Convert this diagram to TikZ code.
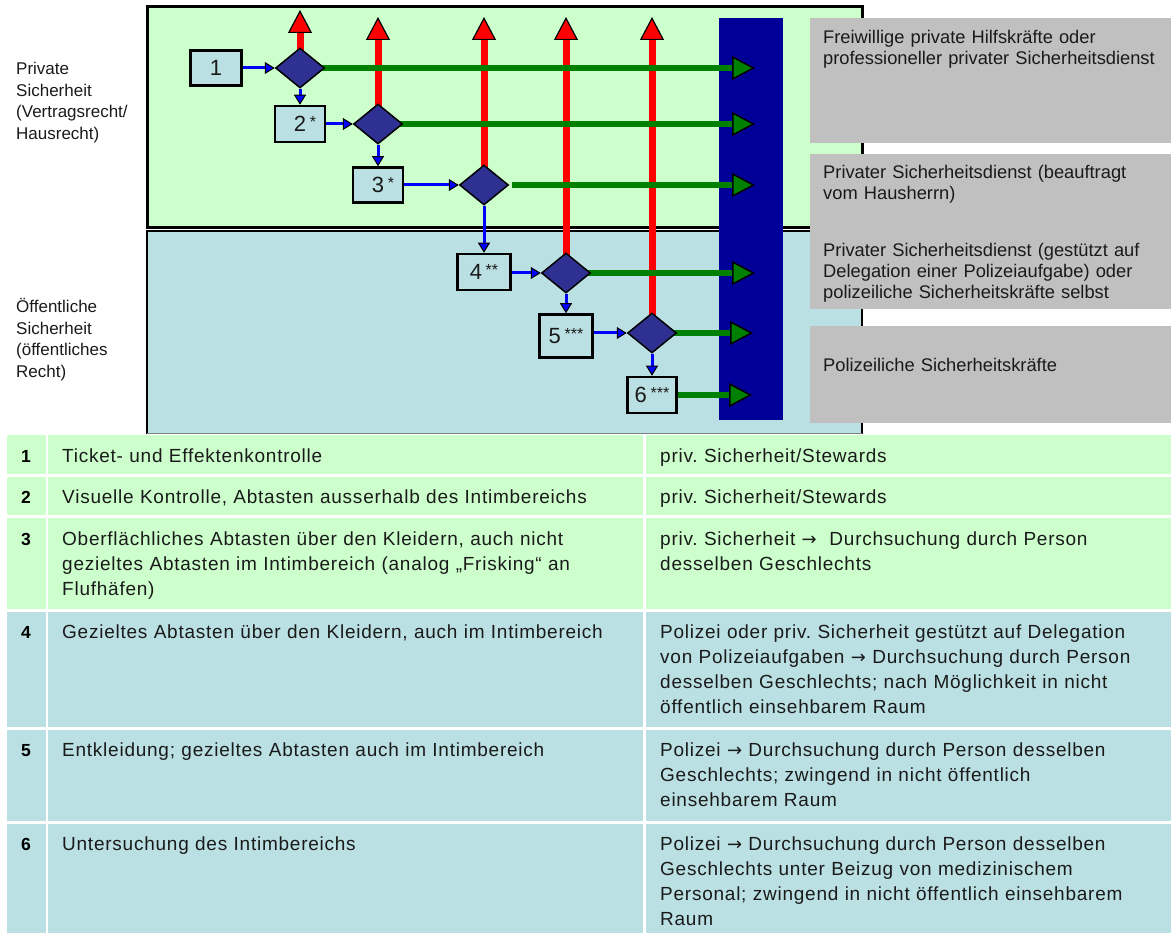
\documentclass[tikz,border=0pt]{standalone}
\usepackage{fontspec}
\setmainfont{Liberation Sans}
\newfontfamily\tabfont[LetterSpace=4]{Liberation Sans}
\newfontfamily\arrowfont{DejaVu Sans}
\frenchspacing
\usetikzlibrary{shapes.geometric,arrows.meta}
\definecolor{regiongreen}{HTML}{CCFFCC}
\definecolor{regionblue}{HTML}{BBE0E3}
\definecolor{barnavy}{HTML}{000099}
\definecolor{diamondnavy}{RGB}{46,49,146}
\definecolor{boxgray}{HTML}{C0C0C0}
\definecolor{flowgreen}{HTML}{008000}
\definecolor{flowblue}{HTML}{0000FF}
\definecolor{textdark}{HTML}{1A1A1A}
\pgfdeclarelayer{bg}
\pgfdeclarelayer{lines}
\pgfsetlayers{bg,lines,main}
\newcommand\boxstars[1]{\raisebox{4pt}{\fontsize{16}{16}\selectfont #1}}
\newcommand\toarr{{\arrowfont\fontsize{18}{18}\selectfont →}}
\tikzset{
  stepbox/.style={draw=black, line width=2.5pt, fill=regionblue, inner sep=0pt,
    font=\fontsize{22}{22}\selectfont, text=textdark},
  decision/.style={diamond, draw=black, line width=1.5pt, fill=diamondnavy,
    minimum width=49pt, minimum height=40pt, inner sep=0pt},
  uparrow/.style={draw=red, line width=7pt,
    -{Triangle[length=23pt,width=24pt,fill=red,color=black,line width=1.2pt]}},
  outarrow/.style={draw=flowgreen, line width=6pt,
    -{Triangle[length=23pt,width=24pt,fill=flowgreen,color=black,line width=1.5pt]}},
  steparrow/.style={draw=flowblue, line width=3pt,
    -{Triangle[length=10pt,width=12pt,fill=flowblue,color=black,line width=1pt]}},
  sidelabel/.style={anchor=base west, inner sep=0pt, align=left, text width=130pt,
    font=\fontsize{17}{21.5}\selectfont, text=textdark},
  graytext/.style={anchor=base west, inner sep=0pt, align=left, text width=345pt,
    font=\fontsize{18.3}{21}\selectfont, text=textdark},
  numcell/.style={anchor=base, inner sep=0pt, font=\bfseries\fontsize{17.5}{17.5}\selectfont, text=black},
  celltext/.style={anchor=base west, inner sep=0pt, align=left, text width=570pt,
    font=\tabfont\fontsize{19}{25.3}\selectfont, text=textdark},
}
\begin{document}
\begin{tikzpicture}[x=1pt,y=-1pt]
\useasboundingbox (0,0) rectangle (1171,933);

\begin{pgfonlayer}{bg}
  % regions
  \fill[regiongreen] (147,7) rectangle (862,228);
  \draw[black, line width=3pt] (147,7) rectangle (862,228);
  \fill[regionblue] (147,231) rectangle (862,434);
  \draw[black, line width=2.5pt] (147,434) -- (147,231) -- (862,231) -- (862,434);
  \draw[gray, line width=1pt] (147,434) -- (862,434);
  % navy bar
  \fill[barnavy] (719,18) rectangle (783,420);
  % gray boxes
  \fill[boxgray] (810,18) rectangle (1171,143);
  \fill[boxgray] (810,154) rectangle (1171,309);
  \fill[boxgray] (810,326) rectangle (1171,423);
  % table cells
  \foreach \t/\b/\c in {435/474/regiongreen, 477/515/regiongreen, 518/609/regiongreen,
                        612/727/regionblue, 730/821/regionblue, 824/933/regionblue} {
    \fill[\c] (7,\t) rectangle (46,\b);
    \fill[\c] (48,\t) rectangle (643,\b);
    \fill[\c] (646,\t) rectangle (1171,\b);
  }
\end{pgfonlayer}

% side labels
\node[sidelabel] (lprivate) at (16,75) {Private\\Sicherheit\\(Vertragsrecht/\\Hausrecht)};
\node[sidelabel] (lpublic) at (16,313) {Öffentliche\\Sicherheit\\(öffentliches\\Recht)};

% gray box texts
\node[graytext] (g1text) at (823,44) {Freiwillige private Hilfskräfte oder\\professioneller privater Sicherheitsdienst};
\node[graytext] (g2text) at (823,179) {Privater Sicherheitsdienst (beauftragt\\vom Hausherrn)};
\node[graytext] (g3text) at (823,257) {Privater Sicherheitsdienst (gestützt auf\\Delegation einer Polizeiaufgabe) oder\\polizeiliche Sicherheitskräfte selbst};
\node[graytext] (g4text) at (823,372) {Polizeiliche Sicherheitskräfte};

% step boxes
\node[stepbox, minimum width=51pt, minimum height=35pt] (b1) at (216,68) {1};
\node[stepbox, minimum width=50pt, minimum height=36pt] (b2) at (300,124) {2\rlap{\,\boxstars{*}}};
\node[stepbox, minimum width=50pt, minimum height=35pt] (b3) at (378,185) {3\rlap{\,\boxstars{*}}};
\node[stepbox, minimum width=53pt, minimum height=36pt] (b4) at (484,272) {4\,\boxstars{**}};
\node[stepbox, minimum width=53pt, minimum height=43pt] (b5) at (566,336) {5\,\boxstars{***}};
\node[stepbox, minimum width=49pt, minimum height=36pt] (b6) at (652,395) {6\,\boxstars{***}};

% decisions
\node[decision] (d1) at (300,68) {};
\node[decision] (d2) at (378,124) {};
\node[decision] (d3) at (484,185) {};
\node[decision] (d4) at (566,273) {};
\node[decision] (d5) at (652,333) {};

% arrow end points
\coordinate (r1) at (300,10);
\coordinate (r2) at (378,17);
\coordinate (r3) at (484,17);
\coordinate (r4) at (566,17);
\coordinate (r5) at (652,17);
\coordinate (g1) at (755,68);
\coordinate (g2) at (755,124);
\coordinate (g3) at (755,185);
\coordinate (g4) at (755,273);
\coordinate (g5) at (753,333);
\coordinate (g6) at (752,395);

\begin{pgfonlayer}{lines}
  \draw[uparrow] (d1.center) -- (r1);
  \draw[uparrow] (d2.center) -- (r2);
  \draw[uparrow] (d3.center) -- (r3);
  \draw[uparrow] (d4.center) -- (r4);
  \draw[uparrow] (d5.center) -- (r5);
  \draw[outarrow] (d1.center) -- (g1);
  \draw[outarrow] (d2.center) -- (g2);
  \draw[outarrow] (d3.east) ++(3,0) -- (g3);
  \draw[outarrow] (d4.center) -- (g4);
  \draw[outarrow] (d5.center) -- (g5);
  \draw[outarrow] (b6.center) -- (g6);
\end{pgfonlayer}
\draw[steparrow] (b1.east |- d1.west) -- (d1.west);
\draw[steparrow] (d1.south) -- (b2.north);
\draw[steparrow] (b2.east |- d2.west) -- (d2.west);
\draw[steparrow] (d2.south) -- (b3.north);
\draw[steparrow] (b3.east |- d3.west) -- (d3.west);
\draw[steparrow] (d3.south) -- (b4.north);
\draw[steparrow] (b4.east |- d4.west) -- (d4.west);
\draw[steparrow] (d4.south) -- (b5.north);
\draw[steparrow] (b5.east |- d5.west) -- (d5.west);
\draw[steparrow] (d5.south) -- (b6.north);

% table
\node[numcell] (n1) at (26,462) {1};
\node[numcell] (n2) at (26,503) {2};
\node[numcell] (n3) at (26,545) {3};
\node[numcell] (n4) at (26,638) {4};
\node[numcell] (n5) at (26,756) {5};
\node[numcell] (n6) at (26,850) {6};

\node[celltext] (m1) at (62,462) {Ticket- und Effektenkontrolle};
\node[celltext] (m2) at (62,503) {Visuelle Kontrolle, Abtasten ausserhalb des Intimbereichs};
\node[celltext] (m3) at (62,545) {Oberflächliches Abtasten über den Kleidern, auch nicht\\gezieltes Abtasten im Intimbereich (analog „Frisking“ an\\Flufhäfen)};
\node[celltext] (m4) at (62,638) {Gezieltes Abtasten über den Kleidern, auch im Intimbereich};
\node[celltext] (m5) at (62,756) {Entkleidung; gezieltes Abtasten auch im Intimbereich};
\node[celltext] (m6) at (62,850) {Untersuchung des Intimbereichs};

\node[celltext] (w1) at (660,462) {priv. Sicherheit/Stewards};
\node[celltext] (w2) at (660,503) {priv. Sicherheit/Stewards};
\node[celltext] (w3) at (660,545) {priv. Sicherheit \toarr\ \ Durchsuchung durch Person\\desselben Geschlechts};
\node[celltext] (w4) at (660,638) {Polizei oder priv. Sicherheit gestützt auf Delegation\\von Polizeiaufgaben \toarr{} Durchsuchung durch Person\\desselben Geschlechts; nach Möglichkeit in nicht\\öffentlich einsehbarem Raum};
\node[celltext] (w5) at (660,756) {Polizei \toarr{} Durchsuchung durch Person desselben\\Geschlechts; zwingend in nicht öffentlich\\einsehbarem Raum};
\node[celltext] (w6) at (660,850) {Polizei \toarr{} Durchsuchung durch Person desselben\\Geschlechts unter Beizug von medizinischem\\Personal; zwingend in nicht öffentlich einsehbarem\\Raum};
\end{tikzpicture}
\end{document}
